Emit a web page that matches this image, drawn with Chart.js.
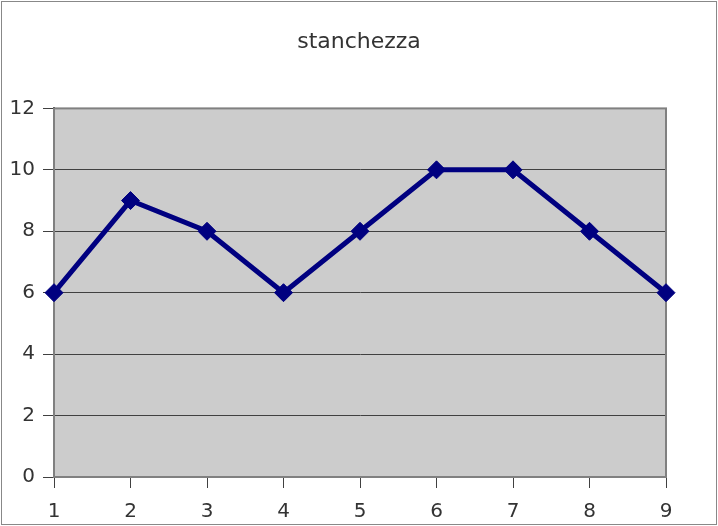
<!DOCTYPE html>
<html>
<head>
<meta charset="utf-8">
<script src="https://cdn.jsdelivr.net/npm/chart.js@4"></script>
<style>
  html, body { margin: 0; padding: 0; background: #fff; }
  #wrap { width: 718px; height: 526px; }
</style>
</head>
<body>
<div id="wrap"><canvas id="chart" width="718" height="526"></canvas></div>
<script>
// Dati
const categories = ['1', '2', '3', '4', '5', '6', '7', '8', '9'];
const values = [6, 9, 8, 6, 8, 10, 10, 8, 6];
const yTicks = [0, 2, 4, 6, 8, 10, 12];

const FONT = "'DejaVu Sans', Verdana, sans-serif";

// Sfondo grigio dell'area e bordo esterno
const frame = {
    id: 'frame',
    beforeDraw(chart) {
        const { ctx, chartArea: a, width, height } = chart;
        ctx.save();
        ctx.fillStyle = '#cccccc';
        ctx.fillRect(a.left, a.top, a.right - a.left, a.bottom - a.top);
        ctx.strokeStyle = '#888888';
        ctx.lineWidth = 1;
        ctx.strokeRect(1.5, 1.5, width - 3, height - 3);
        ctx.restore();
    },
    beforeDatasetsDraw(chart) {
        const { ctx, chartArea: a } = chart;
        ctx.save();
        ctx.strokeStyle = '#808080';
        ctx.lineWidth = 2;
        ctx.strokeRect(a.left, a.top, a.right - a.left, a.bottom - a.top);
        ctx.restore();
    }
};

new Chart(document.getElementById('chart'), {
    type: 'line',
    data: {
        labels: categories,
        datasets: [{
            label: 'stanchezza',
            data: values,
            borderColor: '#000080',
            backgroundColor: '#000080',
            borderWidth: 5,
            pointStyle: 'rectRot',
            pointRadius: 9,
            pointBorderWidth: 1,
            pointBackgroundColor: '#000080',
            pointBorderColor: '#000080',
            tension: 0
        }]
    },
    options: {
        responsive: false,
        animation: false,
        layout: { padding: 0 },
        scales: {
            x: {
                offset: false,
                afterFit: (s) => { s.height = 49; },
                grid: {
                    drawOnChartArea: false,
                    drawTicks: true,
                    tickLength: 11,
                    color: '#404040'
                },
                border: { color: '#404040', width: 2 },
                ticks: {
                    padding: 12,
                    maxRotation: 0,
                    color: '#333',
                    font: { size: 20, family: FONT }
                }
            },
            y: {
                min: 0,
                max: 12,
                afterFit: (s) => { s.width = 54; },
                afterBuildTicks: (s) => { s.ticks = yTicks.map(v => ({ value: v })); },
                grid: {
                    color: '#404040',
                    lineWidth: 1,
                    tickLength: 11
                },
                border: { color: '#404040', width: 2 },
                ticks: {
                    padding: 8,
                    color: '#333',
                    font: { size: 20, family: FONT }
                }
            },
            // asse vuoto a destra: solo per lasciare il margine
            yRight: {
                position: 'right',
                display: true,
                afterFit: (s) => { s.width = 52; },
                grid: { display: false },
                border: { display: false },
                ticks: { display: false }
            }
        },
        plugins: {
            legend: { display: false },
            tooltip: { enabled: false },
            title: {
                display: true,
                text: 'stanchezza',
                color: '#333',
                font: { size: 22, weight: 'normal', family: FONT },
                padding: { top: 29, bottom: 53 }
            }
        }
    },
    plugins: [frame]
});
</script>
</body>
</html>
